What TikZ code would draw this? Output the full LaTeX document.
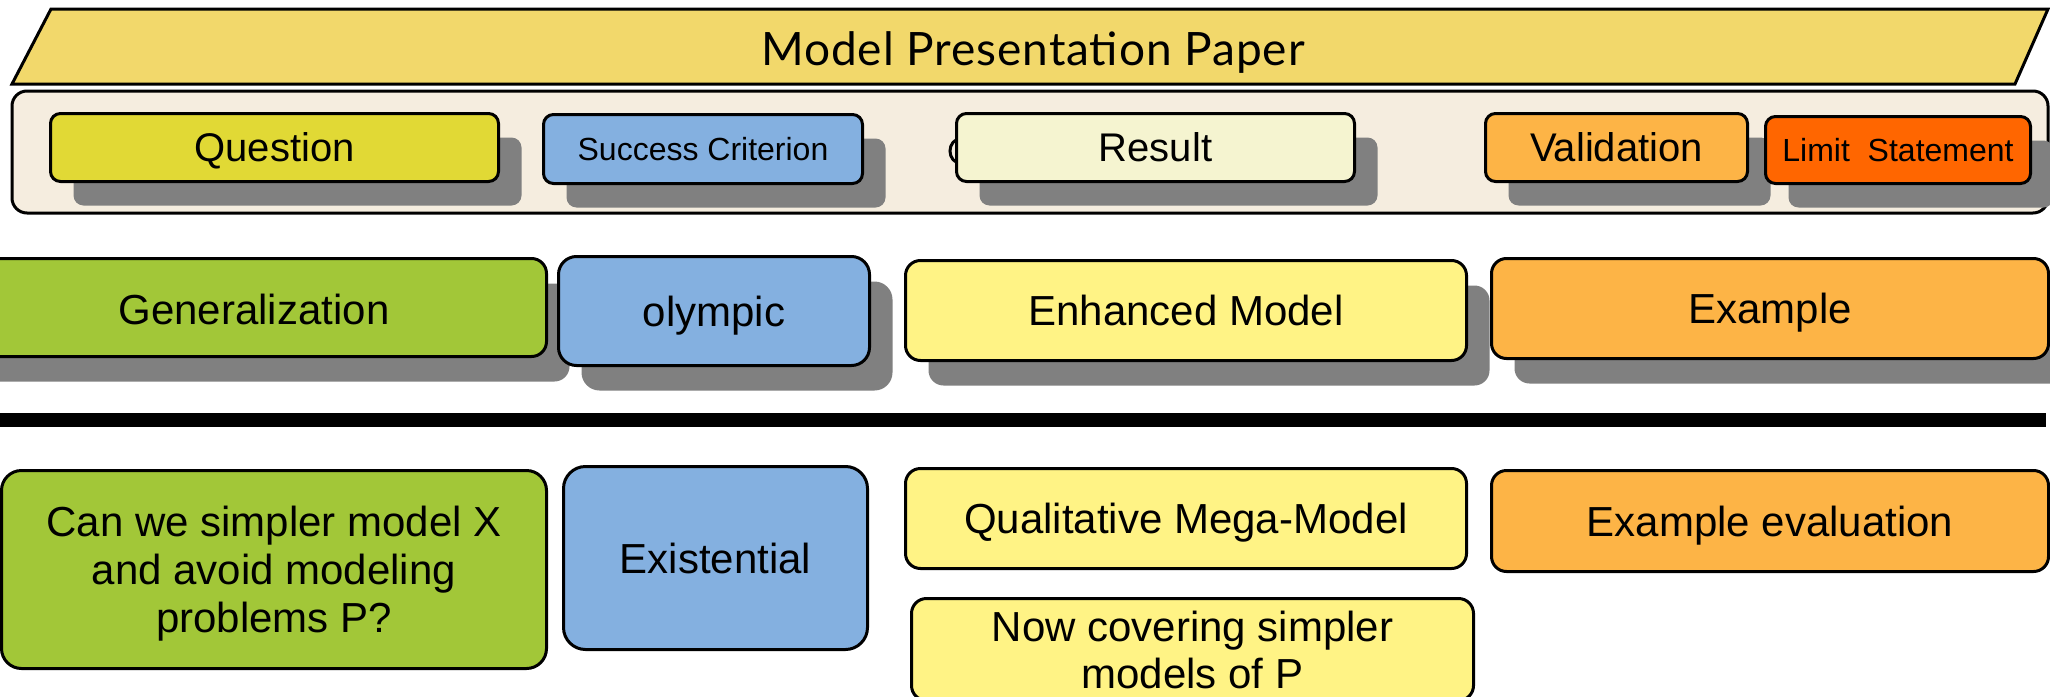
\documentclass[tikz,border=0pt]{standalone}
\usepackage{fontspec}
\setmainfont{Liberation Sans}
\newfontfamily\boxfont{Liberation Sans}
\newfontfamily\titlefont[LetterSpace=2]{Lato}
\usetikzlibrary{shadows}
\definecolor{titlecol}{HTML}{F2D86B}
\definecolor{containercol}{HTML}{F5EDDF}
\definecolor{qcol}{HTML}{E1D935}
\definecolor{bluecol}{HTML}{84B0E0}
\definecolor{resultcol}{HTML}{F5F4D0}
\definecolor{orangecol}{HTML}{FDB446}
\definecolor{limitcol}{HTML}{FF6600}
\definecolor{greencol}{HTML}{A2C738}
\definecolor{lightyellow}{HTML}{FFF385}
\definecolor{shadowgray}{HTML}{808080}
\tikzset{
  box/.style={draw, line width=3pt, rounded corners=10pt, inner sep=0pt, align=center,
    font=\boxfont\fontsize{42}{48}\selectfont, text height=30pt, text depth=0pt},
  smallbox/.style={box, font=\boxfont\fontsize{40}{46}\selectfont, text height=28.6pt},
  tinybox/.style={box, font=\boxfont\fontsize{32}{38}\selectfont, text height=22.9pt},
  multiline/.style={text height=, text depth=},
  shadowA/.style={drop shadow={shadow xshift=23pt, shadow yshift=-24pt, fill=shadowgray, opacity=1}},
  shadowB/.style={drop shadow={shadow xshift=23pt, shadow yshift=-25pt, fill=shadowgray, opacity=1}},
  bigbox/.style={box, rounded corners=15pt},
}
\begin{document}
\begin{tikzpicture}[x=1pt,y=-1pt]
\useasboundingbox (0,0) rectangle (2050,696);
% title
\draw[line width=3pt, fill=titlecol, line join=miter] (51,9) -- (2048,9) -- (2015,84) -- (12,84) -- cycle;
\node[font=\titlefont\fontsize{46}{52}\selectfont, inner sep=0pt, text height=33pt, text depth=0pt] (title) at (1033,49) {Model Presentation Paper};
% container
\draw[line width=3pt, fill=containercol, rounded corners=15pt] (12,91) rectangle (2048,213);
% row 1
\node[smallbox, shadowA, fill=qcol, minimum width=448pt, minimum height=68pt] (question) at (274.5,147.5) {Question};
\node[tinybox, shadowA, fill=bluecol, minimum width=319pt, minimum height=69pt] (success) at (703,149) {Success Criterion};
\draw[line width=3pt] (960,151) ellipse [x radius=10pt, y radius=12pt];
\node[smallbox, shadowA, fill=resultcol, minimum width=398pt, minimum height=68pt] (result) at (1155.5,147.5) {Result};
\node[smallbox, shadowA, fill=orangecol, minimum width=262pt, minimum height=68pt] (validation) at (1616.5,147.5) {Validation};
\node[tinybox, shadowA, fill=limitcol, minimum width=265pt, minimum height=67pt] (limit) at (1898,150) {Limit\ \ Statement};
% row 2
\node[bigbox, shadowB, fill=greencol, minimum width=585pt, minimum height=98pt, text height=34pt] (general) at (254,307.5) {Generalization};
\node[bigbox, shadowB, fill=bluecol, rounded corners=18pt, minimum width=311pt, minimum height=109pt] (olympic) at (714,311) {olympic};
\node[bigbox, shadowB, fill=lightyellow, minimum width=561pt, minimum height=100pt] (enhanced) at (1186,310.5) {Enhanced Model};
\node[bigbox, shadowB, fill=orangecol, minimum width=557pt, minimum height=100pt] (example) at (1770,308.5) {Example};
% separator
\fill (0,413) rectangle (2046,427);
% row 3
\node[bigbox, multiline, fill=greencol, rounded corners=20pt, minimum width=545pt, minimum height=198pt, text depth=1pt] (canwe) at (274,569.5) {Can we simpler model X\\and avoid modeling\\problems P?};
\node[bigbox, fill=bluecol, rounded corners=22pt, minimum width=304pt, minimum height=183pt] (existential) at (715.5,558) {Existential};
\node[bigbox, fill=lightyellow, minimum width=561pt, minimum height=100pt] (quali) at (1186,518.5) {Qualitative Mega-Model};
\node[bigbox, multiline, fill=lightyellow, font=\boxfont\fontsize{42}{47}\selectfont, minimum width=562pt, minimum height=102pt] (nowcov) at (1192.5,649.5) {Now covering simpler\\models of P};
\node[bigbox, fill=orangecol, minimum width=557pt, minimum height=101pt] (exeval) at (1770,521) {Example evaluation};
\end{tikzpicture}
\end{document}
